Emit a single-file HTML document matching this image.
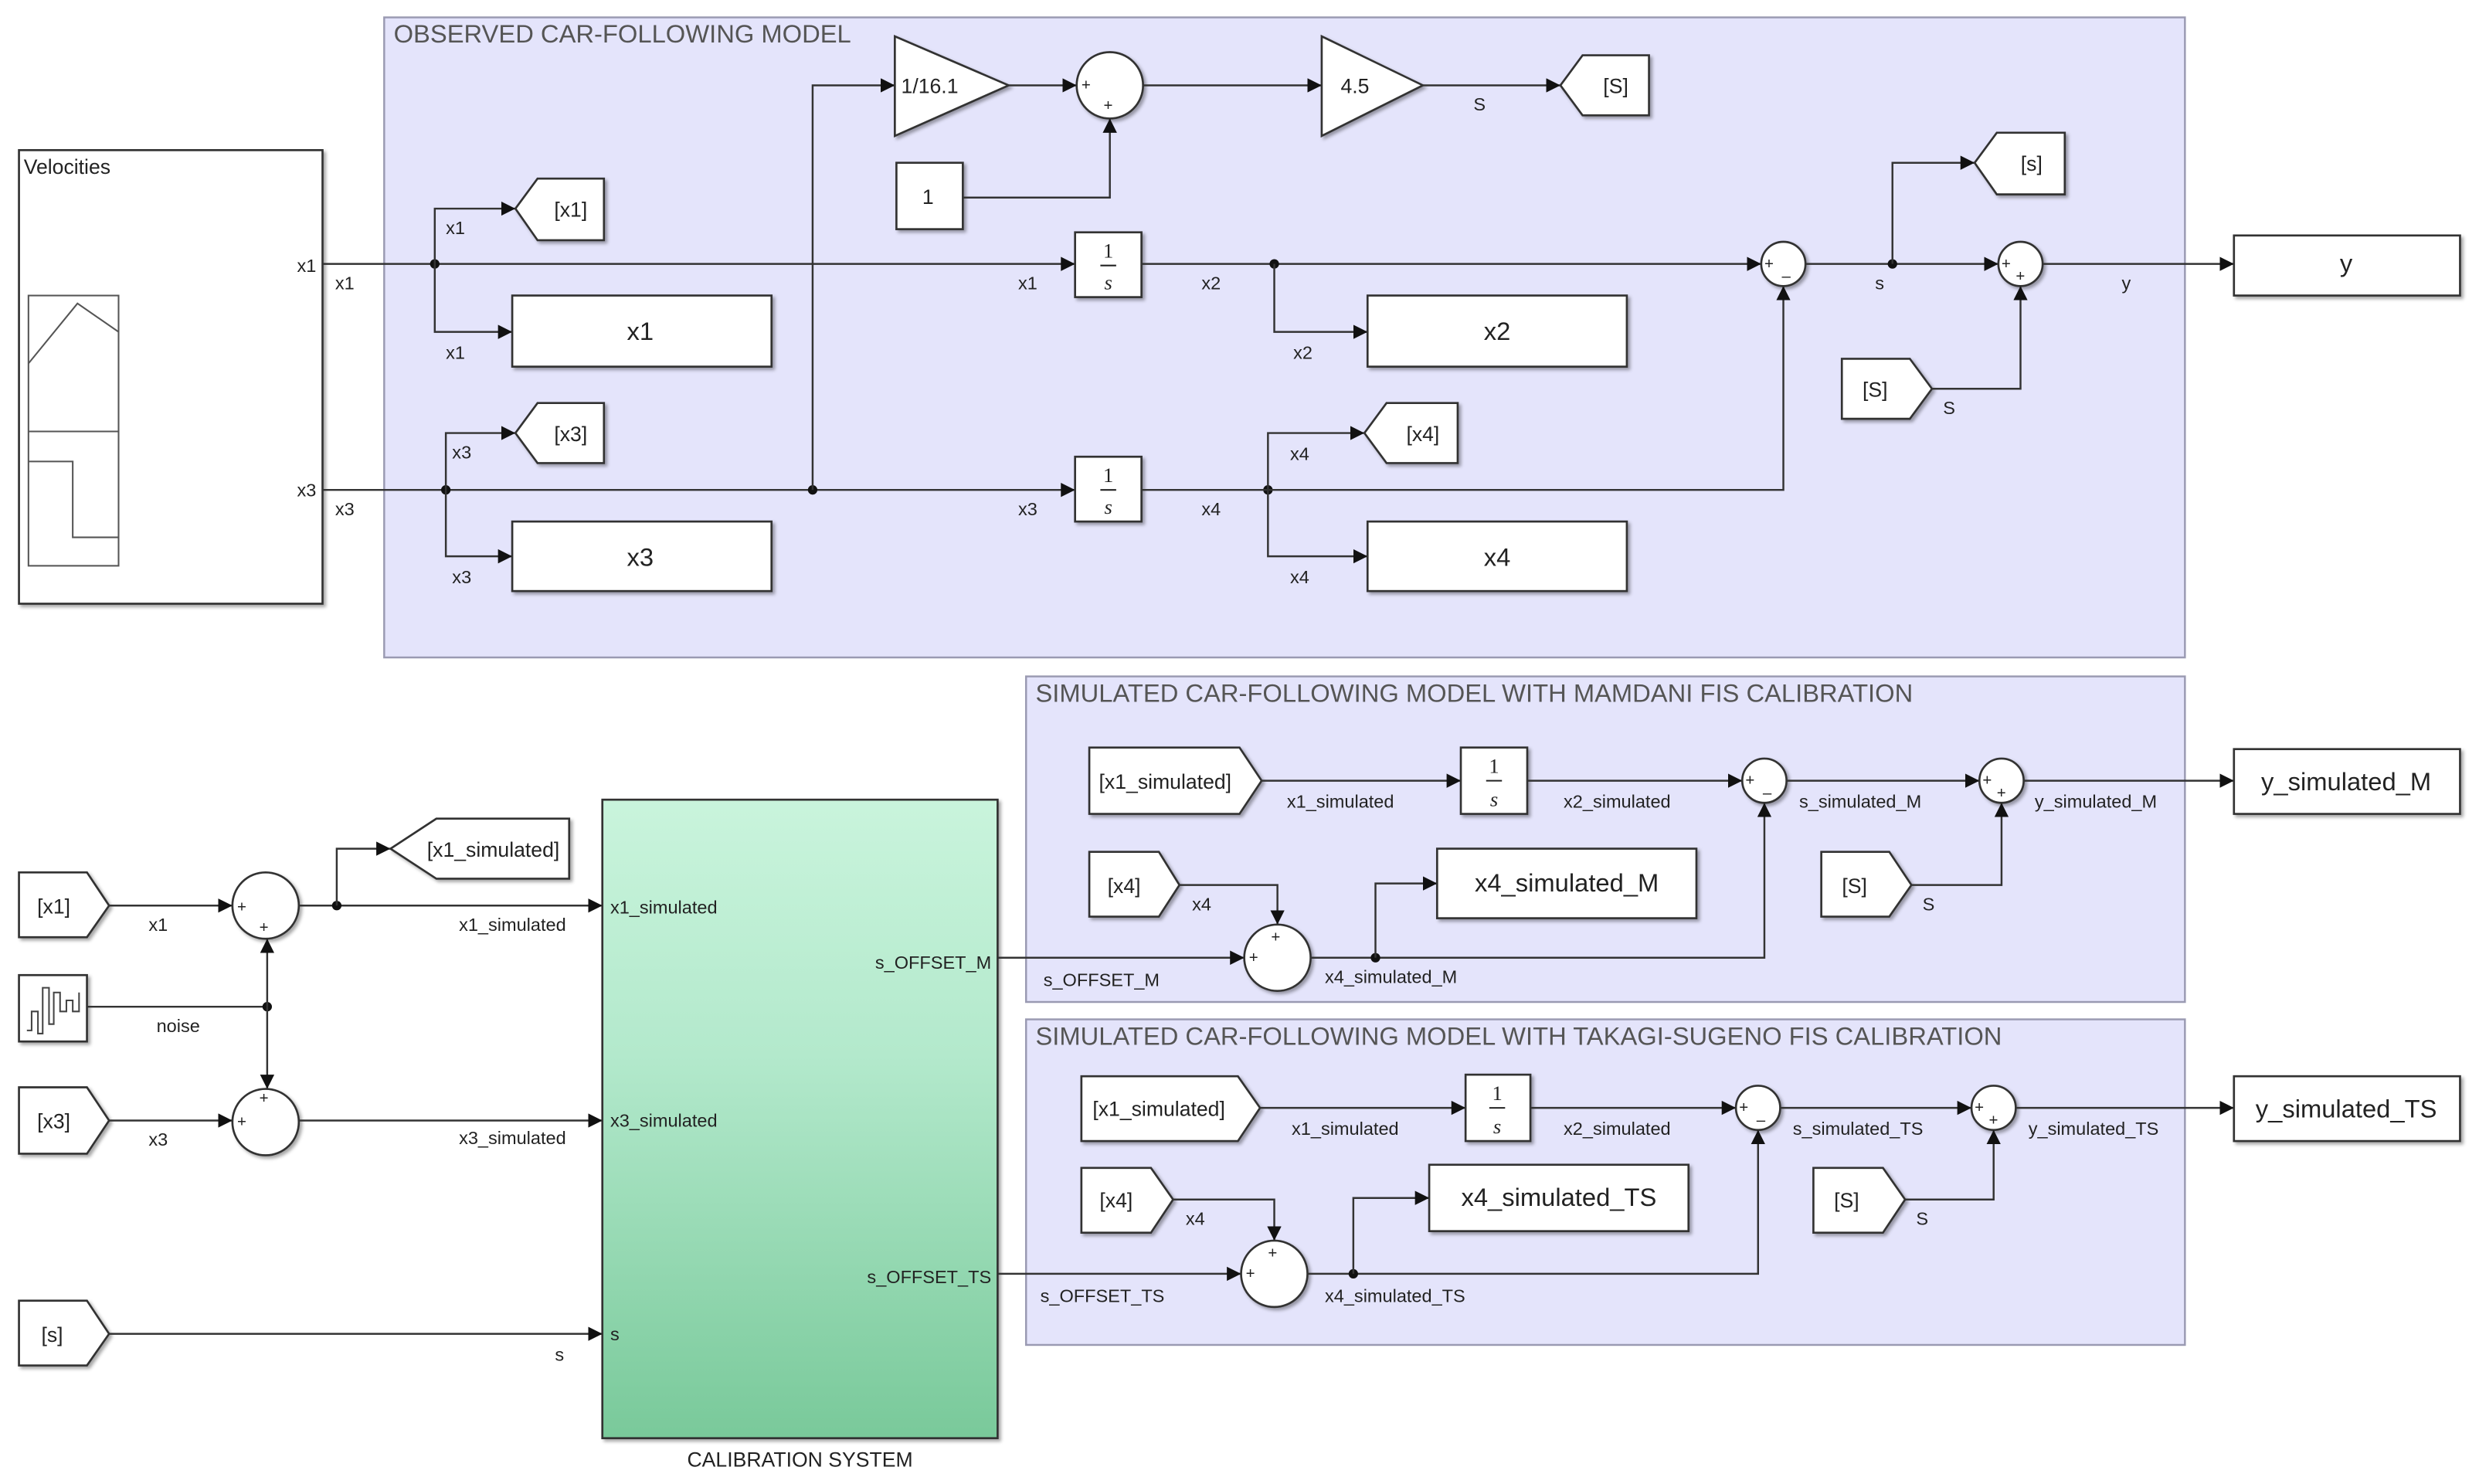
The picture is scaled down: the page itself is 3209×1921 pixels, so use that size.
<!DOCTYPE html>
<html><head><meta charset="utf-8"><style>
html,body{margin:0;padding:0;background:#fff;}
svg{display:block;}
text{font-family:"Liberation Sans",sans-serif;fill:#222;}
.l{font-size:11.5px;}
.b{font-size:16px;}
.t{font-size:16px;fill:#555;}
.ln{stroke:#333;stroke-width:1.2;fill:none;}
.ar{stroke:#333;stroke-width:1.2;fill:none;marker-end:url(#a);}
.blk{fill:#fff;stroke:#333;stroke-width:1.3;filter:url(#sh);}
.dot{fill:#111;}
.sg{font-size:10px;}
</style></head><body>
<svg width="3209" height="1921" viewBox="0 0 1568 939" preserveAspectRatio="none">
<defs>
<marker id="a" viewBox="0 0 10 10" refX="10" refY="5" markerWidth="9" markerHeight="9" markerUnits="userSpaceOnUse" orient="auto"><path d="M0,0 L10,5 L0,10 z" fill="#111"/></marker>
<filter id="sh" x="-10%" y="-10%" width="130%" height="130%"><feDropShadow dx="1.5" dy="1.5" stdDeviation="1" flood-color="#000" flood-opacity="0.35"/></filter>
<linearGradient id="g" x1="0" y1="0" x2="0" y2="1"><stop offset="0" stop-color="#c9f4dc"/><stop offset="0.4" stop-color="#b3e9cc"/><stop offset="1" stop-color="#79c99a"/></linearGradient>
</defs>

<!-- areas -->
<rect x="243" y="11" width="1139" height="405" fill="#e4e4fb" stroke="#9a9ab2" stroke-width="1.2"/>
<text class="t" x="249" y="27">OBSERVED CAR-FOLLOWING MODEL</text>
<rect x="649" y="428" width="733" height="206" fill="#e4e4fb" stroke="#9a9ab2" stroke-width="1.2"/>
<text class="t" x="655" y="444">SIMULATED CAR-FOLLOWING MODEL WITH MAMDANI FIS CALIBRATION</text>
<rect x="649" y="645" width="733" height="206" fill="#e4e4fb" stroke="#9a9ab2" stroke-width="1.2"/>
<text class="t" x="655" y="661">SIMULATED CAR-FOLLOWING MODEL WITH TAKAGI-SUGENO FIS CALIBRATION</text>

<!-- Velocities -->
<rect class="blk" x="12" y="95" width="192" height="287"/>
<text x="15" y="110" style="font-size:13px">Velocities</text>
<rect x="18" y="187" width="57" height="171" fill="none" stroke="#555"/>
<line x1="18" y1="273" x2="75" y2="273" stroke="#555"/>
<polyline points="18,230 49,192 75,210" fill="none" stroke="#555"/>
<polyline points="18,292 46,292 46,340 75,340" fill="none" stroke="#555"/>
<text class="l" x="200" y="172" text-anchor="end">x1</text>
<text class="l" x="200" y="314" text-anchor="end">x3</text>

<!-- x1 line -->
<path class="ar" d="M204,167 H680"/>
<text class="l" x="212" y="183">x1</text>
<circle class="dot" cx="275" cy="167" r="3"/>
<path class="ar" d="M275,167 V132 H326"/>
<path class="ar" d="M275,167 V210 H324"/>
<text class="l" x="282" y="148">x1</text>
<text class="l" x="282" y="227">x1</text>
<polygon class="blk" points="326,132 340,113 382,113 382,152 340,152"/>
<text class="l" x="361" y="137" text-anchor="middle" style="font-size:13px">[x1]</text>
<rect class="blk" x="324" y="187" width="164" height="45"/>
<text class="b" x="405" y="215" text-anchor="middle">x1</text>

<!-- x3 line -->
<path class="ar" d="M204,310 H680"/>
<text class="l" x="212" y="326">x3</text>
<circle class="dot" cx="282" cy="310" r="3"/>
<path class="ar" d="M282,310 V274 H326"/>
<path class="ar" d="M282,310 V352 H324"/>
<text class="l" x="286" y="290">x3</text>
<text class="l" x="286" y="369">x3</text>
<polygon class="blk" points="326,274 340,255 382,255 382,293 340,293"/>
<text class="l" x="361" y="279" text-anchor="middle" style="font-size:13px">[x3]</text>
<rect class="blk" x="324" y="330" width="164" height="44"/>
<text class="b" x="405" y="358" text-anchor="middle">x3</text>

<!-- gain path -->
<circle class="dot" cx="514" cy="310" r="3"/>
<path class="ar" d="M514,310 V54 H566"/>
<polygon class="blk" points="566,23 566,86 638,54"/>
<text x="570" y="59" style="font-size:13px">1/16.1</text>
<path class="ar" d="M638,54 H681"/>
<circle class="blk" cx="702" cy="54" r="21"/>
<text class="sg" x="684" y="57">+</text><text class="sg" x="698" y="70">+</text>
<rect class="blk" x="567" y="103" width="42" height="42"/>
<text x="587" y="129" text-anchor="middle" style="font-size:13px">1</text>
<path class="ar" d="M609,125 H702 V75"/>
<path class="ar" d="M723,54 H836"/>
<polygon class="blk" points="836,23 836,86 900,54"/>
<text x="848" y="59" style="font-size:13px">4.5</text>
<path class="ar" d="M900,54 H987"/>
<text class="l" x="932" y="70">S</text>
<polygon class="blk" points="987,54 1001,35 1043,35 1043,73 1001,73"/>
<text x="1022" y="59" text-anchor="middle" style="font-size:13px">[S]</text>

<!-- integrators top -->
<rect class="blk" x="680" y="147" width="42" height="41"/>
<text x="701" y="163" text-anchor="middle" style="font-size:13px;font-family:'Liberation Serif',serif">1</text>
<line x1="696" y1="168" x2="706" y2="168" stroke="#222"/>
<text x="701" y="183" text-anchor="middle" style="font-size:13px;font-style:italic;font-family:'Liberation Serif',serif">s</text>
<text class="l" x="644" y="183">x1</text>
<path class="ar" d="M722,167 H1114"/>
<text class="l" x="760" y="183">x2</text>
<circle class="dot" cx="806" cy="167" r="3"/>
<path class="ar" d="M806,167 V210 H865"/>
<text class="l" x="818" y="227">x2</text>
<rect class="blk" x="865" y="187" width="164" height="45"/>
<text class="b" x="947" y="215" text-anchor="middle">x2</text>

<rect class="blk" x="680" y="289" width="42" height="41"/>
<text x="701" y="305" text-anchor="middle" style="font-size:13px;font-family:'Liberation Serif',serif">1</text>
<line x1="696" y1="310" x2="706" y2="310" stroke="#222"/>
<text x="701" y="325" text-anchor="middle" style="font-size:13px;font-style:italic;font-family:'Liberation Serif',serif">s</text>
<text class="l" x="644" y="326">x3</text>
<text class="l" x="760" y="326">x4</text>
<circle class="dot" cx="802" cy="310" r="3"/>
<path class="ar" d="M722,310 H1128 V181"/>
<path class="ar" d="M802,310 V274 H863"/>
<path class="ar" d="M802,310 V352 H865"/>
<text class="l" x="816" y="291">x4</text>
<text class="l" x="816" y="369">x4</text>
<polygon class="blk" points="863,274 877,255 922,255 922,293 877,293"/>
<text x="900" y="279" text-anchor="middle" style="font-size:13px">[x4]</text>
<rect class="blk" x="865" y="330" width="164" height="44"/>
<text class="b" x="947" y="358" text-anchor="middle">x4</text>

<circle class="blk" cx="1128" cy="167" r="14"/>
<text class="sg" x="1116" y="170">+</text><text class="sg" x="1127" y="178">–</text>
<path class="ar" d="M1142,167 H1264"/>
<text class="l" x="1186" y="183">s</text>
<circle class="dot" cx="1197" cy="167" r="3"/>
<path class="ar" d="M1197,167 V103 H1249"/>
<polygon class="blk" points="1249,103 1263,84 1306,84 1306,123 1263,123"/>
<text x="1285" y="108" text-anchor="middle" style="font-size:13px">[s]</text>
<circle class="blk" cx="1278" cy="167" r="14"/>
<text class="sg" x="1266" y="170">+</text><text class="sg" x="1275" y="178">+</text>
<path class="ar" d="M1292,167 H1413"/>
<text class="l" x="1342" y="183">y</text>
<rect class="blk" x="1413" y="149" width="143" height="38"/>
<text class="b" x="1484" y="172" text-anchor="middle">y</text>
<polygon class="blk" points="1165,227 1208,227 1222,246 1208,265 1165,265"/>
<text x="1186" y="251" text-anchor="middle" style="font-size:13px">[S]</text>
<path class="ar" d="M1222,246 H1278 V181"/>
<text class="l" x="1229" y="262">S</text>

<!-- bottom-left -->
<polygon class="blk" points="12,552 55,552 69,573 55,593 12,593"/>
<text x="34" y="578" text-anchor="middle" style="font-size:13px">[x1]</text>
<path class="ar" d="M69,573 H147"/>
<text class="l" x="94" y="589">x1</text>
<circle class="blk" cx="168" cy="573" r="21"/>
<text class="sg" x="150" y="577">+</text><text class="sg" x="164" y="590">+</text>
<rect class="blk" x="12" y="617" width="43" height="42"/>
<polyline points="17,652 20,652 20,640 24,640 24,654 27,654 27,625 31,625 31,648 34,648 34,628 38,628 38,640 42,640 42,633 46,633 46,640 50,640 50,628" fill="none" stroke="#444" stroke-width="1"/>
<path class="ln" d="M55,637 H169"/>
<text class="l" x="99" y="653">noise</text>
<circle class="dot" cx="169" cy="637" r="3"/>
<path class="ar" d="M169,637 V594"/>
<path class="ar" d="M169,637 V689"/>
<polygon class="blk" points="12,688 55,688 69,709 55,730 12,730"/>
<text x="34" y="714" text-anchor="middle" style="font-size:13px">[x3]</text>
<path class="ar" d="M69,709 H147"/>
<text class="l" x="94" y="725">x3</text>
<circle class="blk" cx="168" cy="710" r="21"/>
<text class="sg" x="164" y="698">+</text><text class="sg" x="150" y="713">+</text>
<path class="ar" d="M189,573 H381"/>
<circle class="dot" cx="213" cy="573" r="3"/>
<path class="ar" d="M213,573 V537 H247"/>
<polygon class="blk" points="247,537 276,518 360,518 360,556 276,556"/>
<text x="312" y="542" text-anchor="middle" style="font-size:13px">[x1_simulated]</text>
<text class="l" x="358" y="589" text-anchor="end">x1_simulated</text>
<path class="ar" d="M189,709 H381"/>
<text class="l" x="358" y="724" text-anchor="end">x3_simulated</text>
<polygon class="blk" points="12,823 55,823 69,844 55,864 12,864"/>
<text x="33" y="849" text-anchor="middle" style="font-size:13px">[s]</text>
<path class="ar" d="M69,844 H381"/>
<text class="l" x="351" y="861">s</text>

<rect x="381" y="506" width="250" height="404" fill="url(#g)" stroke="#333" stroke-width="1.3" filter="url(#sh)"/>
<text class="l" x="386" y="578">x1_simulated</text>
<text class="l" x="386" y="713">x3_simulated</text>
<text class="l" x="386" y="848">s</text>
<text class="l" x="627" y="613" text-anchor="end">s_OFFSET_M</text>
<text class="l" x="627" y="812" text-anchor="end">s_OFFSET_TS</text>
<text x="506" y="928" text-anchor="middle" style="font-size:13px">CALIBRATION SYSTEM</text>

<!-- Mamdani -->
<polygon class="blk" points="689,473 784,473 798,494 784,515 689,515"/>
<text x="737" y="499" text-anchor="middle" style="font-size:13px">[x1_simulated]</text>
<path class="ar" d="M798,494 H924"/>
<text class="l" x="814" y="511">x1_simulated</text>
<rect class="blk" x="924" y="473" width="42" height="42"/>
<text x="945" y="489" text-anchor="middle" style="font-size:13px;font-family:'Liberation Serif',serif">1</text>
<line x1="940" y1="494" x2="950" y2="494" stroke="#222"/>
<text x="945" y="510" text-anchor="middle" style="font-size:13px;font-style:italic;font-family:'Liberation Serif',serif">s</text>
<path class="ar" d="M966,494 H1102"/>
<text class="l" x="989" y="511">x2_simulated</text>
<circle class="blk" cx="1116" cy="494" r="14"/>
<text class="sg" x="1104" y="497">+</text><text class="sg" x="1115" y="505">–</text>
<path class="ar" d="M1130,494 H1252"/>
<text class="l" x="1138" y="511">s_simulated_M</text>
<circle class="blk" cx="1266" cy="494" r="14"/>
<text class="sg" x="1254" y="497">+</text><text class="sg" x="1263" y="505">+</text>
<path class="ar" d="M1280,494 H1413"/>
<text class="l" x="1287" y="511">y_simulated_M</text>
<rect class="blk" x="1413" y="474" width="143" height="41"/>
<text class="b" x="1484" y="500" text-anchor="middle">y_simulated_M</text>
<polygon class="blk" points="689,539 733,539 746,560 733,580 689,580"/>
<text x="711" y="565" text-anchor="middle" style="font-size:13px">[x4]</text>
<path class="ar" d="M746,560 H808 V585"/>
<text class="l" x="754" y="576">x4</text>
<path class="ar" d="M631,606 H787"/>
<text class="l" x="660" y="624">s_OFFSET_M</text>
<circle class="blk" cx="808" cy="606" r="21"/>
<text class="sg" x="804" y="596">+</text><text class="sg" x="790" y="609">+</text>
<path class="ar" d="M829,606 H1116 V508"/>
<circle class="dot" cx="870" cy="606" r="3"/>
<path class="ar" d="M870,606 V559 H909"/>
<text class="l" x="838" y="622">x4_simulated_M</text>
<rect class="blk" x="909" y="537" width="164" height="44"/>
<text class="b" x="991" y="564" text-anchor="middle">x4_simulated_M</text>
<polygon class="blk" points="1152,539 1195,539 1209,560 1195,580 1152,580"/>
<text x="1173" y="565" text-anchor="middle" style="font-size:13px">[S]</text>
<path class="ar" d="M1209,560 H1266 V508"/>
<text class="l" x="1216" y="576">S</text>

<!-- TS -->
<polygon class="blk" points="684,681 783,681 797,701 783,722 684,722"/>
<text x="733" y="706" text-anchor="middle" style="font-size:13px">[x1_simulated]</text>
<path class="ar" d="M797,701 H927"/>
<text class="l" x="817" y="718">x1_simulated</text>
<rect class="blk" x="927" y="680" width="41" height="42"/>
<text x="947" y="696" text-anchor="middle" style="font-size:13px;font-family:'Liberation Serif',serif">1</text>
<line x1="942" y1="701" x2="952" y2="701" stroke="#222"/>
<text x="947" y="717" text-anchor="middle" style="font-size:13px;font-style:italic;font-family:'Liberation Serif',serif">s</text>
<path class="ar" d="M968,701 H1098"/>
<text class="l" x="989" y="718">x2_simulated</text>
<circle class="blk" cx="1112" cy="701" r="14"/>
<text class="sg" x="1100" y="704">+</text><text class="sg" x="1111" y="712">–</text>
<path class="ar" d="M1126,701 H1247"/>
<text class="l" x="1134" y="718">s_simulated_TS</text>
<circle class="blk" cx="1261" cy="701" r="14"/>
<text class="sg" x="1249" y="704">+</text><text class="sg" x="1258" y="712">+</text>
<path class="ar" d="M1275,701 H1413"/>
<text class="l" x="1283" y="718">y_simulated_TS</text>
<rect class="blk" x="1413" y="681" width="143" height="41"/>
<text class="b" x="1484" y="707" text-anchor="middle">y_simulated_TS</text>
<polygon class="blk" points="684,739 728,739 742,759 728,780 684,780"/>
<text x="706" y="764" text-anchor="middle" style="font-size:13px">[x4]</text>
<path class="ar" d="M742,759 H806 V785"/>
<text class="l" x="750" y="775">x4</text>
<path class="ar" d="M631,806 H785"/>
<text class="l" x="658" y="824">s_OFFSET_TS</text>
<circle class="blk" cx="806" cy="806" r="21"/>
<text class="sg" x="802" y="796">+</text><text class="sg" x="788" y="809">+</text>
<path class="ar" d="M827,806 H1112 V715"/>
<circle class="dot" cx="856" cy="806" r="3"/>
<path class="ar" d="M856,806 V758 H904"/>
<text class="l" x="838" y="824">x4_simulated_TS</text>
<rect class="blk" x="904" y="737" width="164" height="42"/>
<text class="b" x="986" y="763" text-anchor="middle">x4_simulated_TS</text>
<polygon class="blk" points="1147,739 1191,739 1205,759 1191,780 1147,780"/>
<text x="1168" y="764" text-anchor="middle" style="font-size:13px">[S]</text>
<path class="ar" d="M1205,759 H1261 V715"/>
<text class="l" x="1212" y="775">S</text>
</svg>
</body></html>
